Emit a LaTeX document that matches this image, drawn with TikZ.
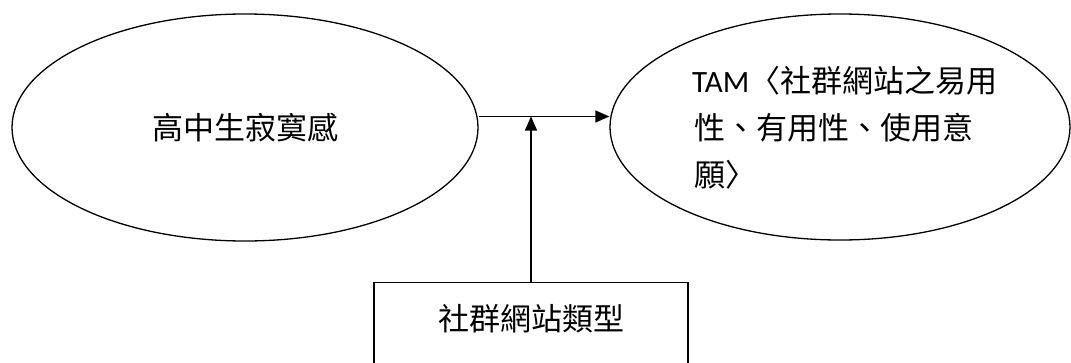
\documentclass[tikz,border=0pt]{standalone}
\usepackage{fontspec}
\setmainfont{Noto Sans CJK TC}
\newfontfamily\tamfont{Carlito}
\usetikzlibrary{shapes.geometric,arrows.meta}
\tikzset{
  line/.style={line width=1.3pt},
  arr/.style={line, -{Triangle[length=14pt,width=12pt]}},
  oval/.style={ellipse, draw, line, inner sep=0pt},
  txt/.style={font=\fontsize{31}{47}\selectfont, inner sep=0pt},
}
\begin{document}
\begin{tikzpicture}[x=1pt,y=-1pt]
\useasboundingbox (0,0) rectangle (1071,362);
\node[oval, minimum width=466, minimum height=227] (L) at (245,127.5) {};
\node[txt] (Lt) at (245,128) {高中生寂寞感};
\node[oval, minimum width=460, minimum height=226] (R) at (840,127) {};
\node[txt, anchor=base west] (t1) at (692,92) {{\tamfont TAM}〈社群網站之易用};
\node[txt, anchor=base west] (t2) at (694,139) {性、有用性、使用意};
\node[txt, anchor=base west] (t3) at (694,186) {願〉};
\node[draw, line, minimum width=314, minimum height=100, anchor=north, inner sep=0pt] (B) at (531,282) {};
\node[txt] (Bt) at (531,319) {社群網站類型};
\coordinate (m) at (531,116.5);
\draw[arr] (L.east |- m) -- (R.west |- m);
\draw[arr] (B.north) -- (m);
\end{tikzpicture}
\end{document}
